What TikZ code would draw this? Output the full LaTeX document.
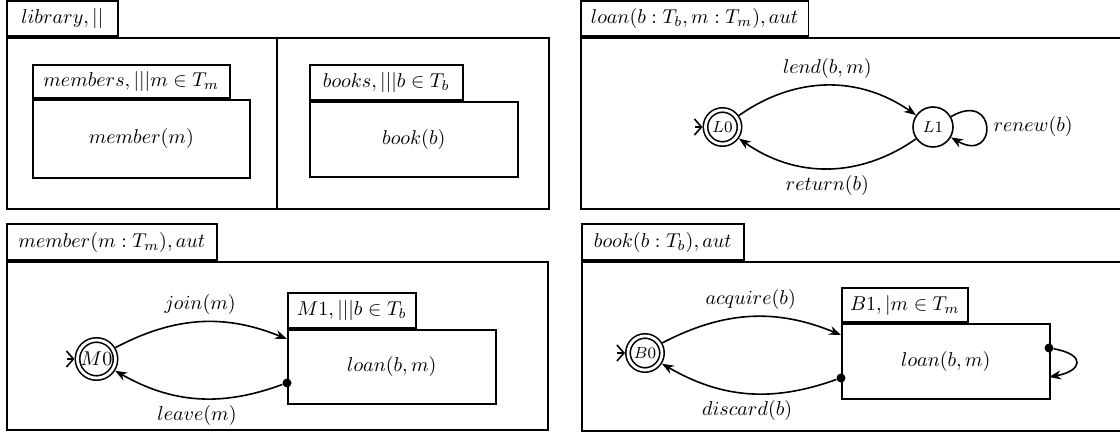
\documentclass[tikz,border=0pt]{standalone}
\usetikzlibrary{arrows.meta}

\begin{document}
\begin{tikzpicture}[x=0.5pt, y=-0.5pt, >={Stealth[length=6pt,width=4.5pt]},
    panel/.style={draw, thick, rectangle, anchor=north west, inner sep=0pt},
    tab/.style={draw, thick, rectangle, anchor=south west, inner sep=0pt, minimum height=17.5pt},
    state/.style={draw, thick, circle, inner sep=0pt, minimum size=20pt, font=\footnotesize},
    accepting/.style={state, double, double distance=1.4pt, minimum size=17pt, outer sep=1.5pt},
    port/.style={circle, fill, inner sep=0pt, minimum size=4.5pt},
    trans/.style={->, thick, bend left=25},
    initarrow/.style={-{Straight Barb[length=3.5pt,width=8pt]}, thick}]
  \useasboundingbox (0,0) rectangle (1120,432);

  % library
  \node[tab, minimum width=55.5pt] (libtab) at (6,37) {$library, ||$};
  \node[panel, minimum width=271pt, minimum height=85.5pt] (lib) at (6,37) {};
  \draw[thick] (277,37) -- (277,208);
  \node[tab, minimum width=98.5pt, minimum height=16.5pt] (memberstab) at (32,99) {$members, |||m \in T_m$};
  \node[panel, minimum width=108.5pt, minimum height=39pt] (members) at (32,99) {$member(m)$};
  \node[tab, minimum width=76.5pt] (bookstab) at (309,101) {$books, |||b \in T_b$};
  \node[panel, minimum width=104pt, minimum height=37.5pt] (books) at (309,101) {$book(b)$};

  % loan
  \node[tab, minimum width=113.75pt] (loantab) at (580,37) {$loan(b:T_b, m:T_m), aut$};
  \node[panel, minimum width=300pt, minimum height=85.5pt] (loan) at (580,37) {};
  \node[accepting] (L0) at (722.5,127) {$L0$};
  \node[state] (L1) at (933,127) {$L1$};
  \coordinate (L0init) at (695,127);
  \draw[initarrow] (L0init) -- (L0);
  \draw[trans, bend left=35] (L0) to node[above] (lend) {$lend(b,m)$} (L1);
  \draw[trans, bend left=35] (L1) to node[below] (return) {$return(b)$} (L0);
  \draw[->, thick] (L1) to[out=30, in=-30, min distance=27pt] node[right] (renew) {$renew(b)$} (L1);

  % member
  \node[tab, minimum width=105pt, minimum height=18pt] (membertab) at (6,261) {$member(m:T_m), aut$};
  \node[panel, minimum width=270.5pt, minimum height=84pt] (member) at (6,261) {};
  \node[accepting, minimum size=19pt, font=\normalsize] (M0) at (96.5,359) {$M0$};
  \coordinate (M0init) at (67,359);
  \draw[initarrow] (M0init) -- (M0);
  \node[tab, minimum width=64pt] (M1tab) at (287,329) {$M1, |||b \in T_b$};
  \node[panel, minimum width=104pt, minimum height=37pt] (M1) at (287,329) {$loan(b,m)$};
  \coordinate (M1in) at (287,339);
  \node[port] (M1out) at (287,383) {};
  \draw[trans] (M0) to node[above] (join) {$join(m)$} (M1in);
  \draw[trans] (M1out) to node[below] (leave) {$leave(m)$} (M0);

  % book
  \node[tab, minimum width=81pt, minimum height=18pt] (booktab) at (581,261) {$book(b:T_b), aut$};
  \node[panel, minimum width=300pt, minimum height=84.5pt] (book) at (581,261) {};
  \node[accepting] (B0) at (645,353) {$B0$};
  \coordinate (B0init) at (617,353);
  \draw[initarrow] (B0init) -- (B0);
  \node[tab, minimum width=63pt, minimum height=17pt] (B1tab) at (841,323) {$B1, |m \in T_m$};
  \node[panel, minimum width=104pt, minimum height=37.5pt] (B1) at (841,323) {$loan(b,m)$};
  \coordinate (B1in) at (841,335);
  \node[port] (B1out) at (841,378) {};
  \node[port] (B1self) at (1049,348) {};
  \coordinate (B1back) at (1049,377);
  \draw[trans] (B0) to node[above] (acquire) {$acquire(b)$} (B1in);
  \draw[trans] (B1out) to node[below] (discard) {$discard(b)$} (B0);
  \draw[->, thick] (B1self) to[out=-10, in=10, looseness=3] (B1back);
\end{tikzpicture}
\end{document}
